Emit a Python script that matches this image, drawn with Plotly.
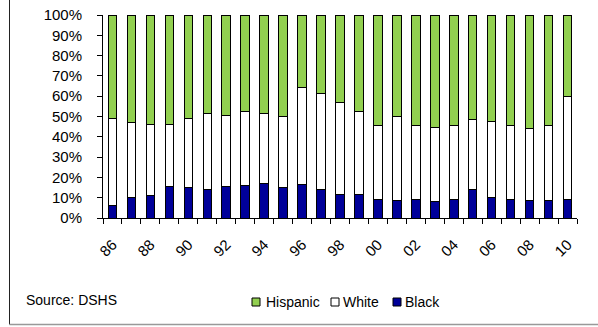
import plotly.graph_objects as go

# Share of cases by ethnicity, 1986-2010 (percent)
years = [str(y) for y in range(1986, 2011)]
tick_text = [y[-2:] if int(y) % 2 == 0 else "" for y in years]

black = [6.2, 10.0, 11.0, 15.4, 14.8, 13.9, 15.4, 16.2, 17.0, 14.8,
         16.4, 13.9, 11.6, 11.6, 9.3, 8.7, 9.3, 7.9, 9.3, 13.9,
         10.2, 9.3, 8.7, 8.7, 9.3]
white_top = [49.2, 46.9, 45.9, 45.9, 49.2, 51.5, 50.7, 52.3, 51.5, 50.0,
             64.4, 61.3, 56.9, 52.3, 45.4, 50.0, 45.4, 44.6, 45.4, 48.5,
             47.7, 45.4, 43.9, 45.4, 59.8]
white = [round(t - b, 1) for t, b in zip(white_top, black)]
hispanic = [round(100 - t, 1) for t in white_top]

series_names = ["Black", "White", "Hispanic"]
series_values = [black, white, hispanic]
series_colors = ["#000099", "#FFFFFF", "#92D050"]

FONT = "Liberation Sans, Arial, sans-serif"

# Plot-area geometry in pixels (used to place the frame, note and legend)
W, H = 598, 327
L, R, T, B = 103, 21, 15, 109
PW, PH = W - L - R, H - T - B


def px_x(x):
    return (x - L) / PW


def px_y(y):
    return (H - B - y) / PH


fig = go.Figure()
for name, vals, col in zip(series_names, series_values, series_colors):
    fig.add_trace(go.Bar(
        x=years, y=vals, name=name,
        marker=dict(color=col, line=dict(color="#000000", width=1)),
        showlegend=False,
    ))

fig.update_layout(
    template="none",
    barmode="stack",
    bargap=0.55,
    width=W, height=H,
    margin=dict(l=L, r=R, t=T, b=B, pad=0),
    paper_bgcolor="white",
    plot_bgcolor="white",
    font=dict(family=FONT, size=15, color="#000000"),
    xaxis=dict(
        type="category",
        automargin=False,
        tickvals=years, ticktext=tick_text,
        tickangle=-45,
        tickson="boundaries",
        ticks="outside", ticklen=5, tickcolor="#000000", tickwidth=1,
        showline=True, linecolor="#000000", linewidth=1,
        showgrid=False, zeroline=False,
        ticklabelstandoff=11,
        tickfont=dict(family=FONT, size=15),
    ),
    yaxis=dict(
        automargin=False,
        range=[0, 100],
        tickvals=list(range(0, 101, 10)),
        ticktext=[f"{v}%" for v in range(0, 101, 10)],
        ticks="outside", ticklen=5, tickcolor="#000000", tickwidth=1,
        showline=True, linecolor="#000000", linewidth=1,
        showgrid=False, zeroline=False,
        ticklabelstandoff=12,
        tickfont=dict(family=FONT, size=15),
    ),
)

# Frame lines around the chart area
fig.add_shape(type="line", xref="paper", yref="paper",
              x0=px_x(9.5), x1=px_x(9.5), y0=px_y(324.5), y1=px_y(-2),
              line=dict(color="#222222", width=1))
fig.add_shape(type="line", xref="paper", yref="paper",
              x0=px_x(9.5), x1=px_x(600), y0=px_y(324.5), y1=px_y(324.5),
              line=dict(color="#999999", width=1.5))

# Source note
fig.add_annotation(text="Source: DSHS", xref="paper", yref="paper",
                   x=px_x(24), y=px_y(300),
                   xanchor="left", yanchor="middle", showarrow=False,
                   font=dict(family=FONT, size=14, color="#000000"))

# Legend: swatch + label for each series
legend_items = [("Hispanic", "#92D050", 252, 264),
                ("White", "#FFFFFF", 331, 341),
                ("Black", "#000099", 393, 403)]
ly = 302
for label, col, sx, tx in legend_items:
    fig.add_shape(type="rect", xref="paper", yref="paper",
                  x0=px_x(sx), x1=px_x(sx + 8),
                  y0=px_y(ly + 4), y1=px_y(ly - 4),
                  fillcolor=col, line=dict(color="#000000", width=1))
    fig.add_annotation(text=label, xref="paper", yref="paper",
                       x=px_x(tx), y=px_y(ly),
                       xanchor="left", yanchor="middle", showarrow=False,
                       font=dict(family=FONT, size=14, color="#000000"))

fig.write_html("out.html")
